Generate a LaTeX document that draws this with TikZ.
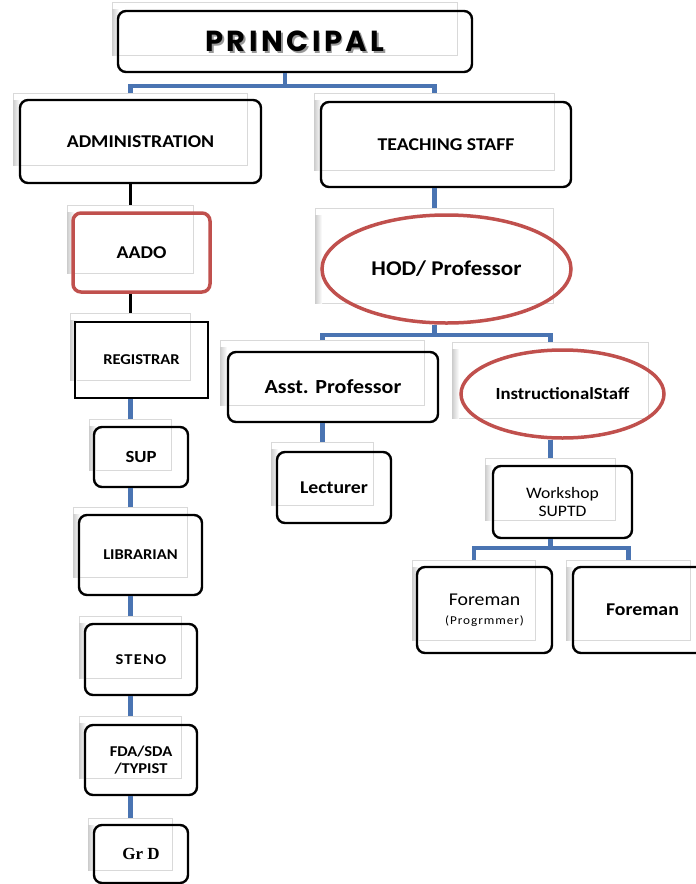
\documentclass[tikz,border=0pt]{standalone}
\usepackage{fontspec}
\setmainfont{Carlito}[FakeStretch=1.1]
\newfontfamily\pfont{Poppins}[LetterSpace=12]
\newfontfamily\spfont{Carlito}[FakeStretch=1.1,LetterSpace=8]
\newfontfamily\serfont{Liberation Serif}
\usetikzlibrary{shapes.geometric}
\definecolor{myblue}{RGB}{74,116,178}
\definecolor{myred}{RGB}{192,80,77}
\newcommand\fs[1]{\fontsize{#1pt}{\dimexpr #1pt*6/5\relax}\selectfont}
\newcommand\mkplate[5]{%
  \node[plate,minimum width={#4-#2},minimum height={#5-#3},anchor=north west] (#1) at (#2,#3) {};
  \fill[left color=black!20,right color=white] ([yshift=-7pt]#1.north west) rectangle ([xshift=7pt]#1.south west);}
\newcommand\mkbox[8]{%
  \node[#6,minimum width={#4-#2},minimum height={#5-#3},font={#7}] (#1) at ({(#2+#4)/2},{(#3+#5)/2}) {#8};}
\begin{document}
\begin{tikzpicture}[x=1pt,y=-1pt,
  plate/.style={draw=black!15,line width=0.8pt,fill=white,inner sep=0pt},
  box/.style={draw=black,line width=2.4pt,rounded corners=8pt,inner sep=0pt,align=center},
  sqbox/.style={draw=black,line width=2.4pt,inner sep=0pt,align=center},
  redbox/.style={draw=myred,line width=3.5pt,rounded corners=8pt,inner sep=0pt,align=center},
  oval/.style={ellipse,draw=myred,line width=3.5pt,inner sep=0pt,align=center},
  bl/.style={draw=myblue,line width=4.5pt},
  blk/.style={draw=black,line width=2.5pt}]
\useasboundingbox (0,0) rectangle (696,884);
\clip (0,0) rectangle (696,884);
% plates
\mkplate{pplate}{112}{2}{457}{55}
\mkplate{adplate}{13}{93}{247}{165}
\mkplate{tsplate}{314}{93}{554}{170}
\mkplate{aaplate}{67}{205}{193}{273}
\mkplate{rgplate}{70}{313}{190}{380}
\mkplate{suplate}{89}{419}{171}{470}
\mkplate{liplate}{73}{507}{187}{577}
\mkplate{stplate}{79}{616}{181}{678}
\mkplate{fdplate}{79}{716}{181}{778}
\mkplate{grplate}{88}{818}{172}{870}
\mkplate{hdplate}{315}{208}{553}{303}
\mkplate{asplate}{220}{340}{424}{405}
\mkplate{inplate}{452}{342}{648}{418}
\mkplate{lcplate}{271}{442}{373}{505}
\mkplate{wkplate}{485}{458}{615}{520}
\mkplate{f1plate}{412}{560}{535}{640}
\mkplate{f2plate}{566}{560}{690}{640}
% boxes
\mkbox{principal}{118}{11}{472}{72}{box}{}{}
\node[font=\pfont\bfseries\fs{29},text=black!40] at ([shift={(1.6pt,-1.6pt)}]principal.center) {PRINCIPAL};
\node[font=\pfont\bfseries\fs{29}] (ptxt) at (principal.center) {PRINCIPAL};
\mkbox{admin}{20}{100}{261}{183}{box}{\bfseries\fs{18}}{ADMINISTRATION}
\mkbox{teach}{321}{102}{571}{187}{box}{\bfseries\fs{18}}{TEACHING STAFF}
\mkbox{aado}{73}{213}{210}{292}{redbox}{\bfseries\fs{18}}{AADO}
\mkbox{reg}{75}{322}{208}{398}{sqbox}{\bfseries\fs{15}}{REGISTRAR}
\mkbox{sup}{94}{427}{188}{487}{box}{\bfseries\fs{17}}{SUP}
\mkbox{lib}{79}{515}{202}{595}{box}{\bfseries\fs{15}}{LIBRARIAN}
\mkbox{steno}{85}{624}{197}{695}{box}{\spfont\bfseries\fs{15}}{STENO}
\mkbox{fda}{85}{725}{197}{795}{box}{\bfseries\fs{15}}{FDA/SDA\\[-1pt]/TYPIST}
\mkbox{grd}{94}{825}{188}{883}{box}{\serfont\bfseries\fs{17}}{Gr D}
\mkbox{hod}{322}{215}{571}{323}{oval}{\bfseries\fs{21}}{HOD/ Professor}
\mkbox{asst}{228}{352}{438}{422}{box}{\bfseries\fs{20}}{Asst. Professor}
\mkbox{instr}{461}{350}{664}{438}{oval}{\bfseries\fs{17}}{InstructionalStaff}
\mkbox{lect}{277}{452}{391}{523}{box}{\bfseries\fs{18}}{Lecturer}
\mkbox{work}{493}{466}{632}{538}{box}{\fs{16}}{Workshop\\[-1pt]SUPTD}
\mkbox{fore1}{417}{567}{552}{653}{box}{\fs{18}}{Foreman\\[-3pt]{\spfont\fs{12}(Progrmmer)}}
\mkbox{fore2}{573}{567}{712}{653}{box}{\bfseries\fs{18}}{Foreman}
% connectors
\draw[bl] (pplate.center |- principal.south) -- ++(0,13) coordinate (pj);
\draw[bl] (adplate.north) |- (pj) -| (tsplate.north);
\draw[blk] (admin.south -| adplate.center) -- (aaplate.north);
\draw[blk] (aado.south -| aaplate.center) -- (rgplate.north);
\draw[bl] (reg.south -| rgplate.center) -- (suplate.north);
\draw[bl] (sup.south -| suplate.center) -- (liplate.north);
\draw[bl] (lib.south -| liplate.center) -- (stplate.north);
\draw[bl] (steno.south -| stplate.center) -- (fdplate.north);
\draw[bl] (fda.south -| fdplate.center) -- (grplate.north);
\draw[bl] (teach.south -| tsplate.center) -- (hdplate.north);
\draw[bl] (hod.south -| hdplate.center) -- ++(0,10) coordinate (hj);
\draw[bl] (asplate.north) |- (hj) -| (inplate.north);
\draw[bl] (asst.south -| asplate.center) -- (lcplate.north);
\draw[bl] (instr.south -| inplate.center) -- (wkplate.north);
\draw[bl] (work.south -| wkplate.center) -- ++(0,9) coordinate (wj);
\draw[bl] (f1plate.north) |- (wj) -| (f2plate.north);
\end{tikzpicture}
\end{document}
